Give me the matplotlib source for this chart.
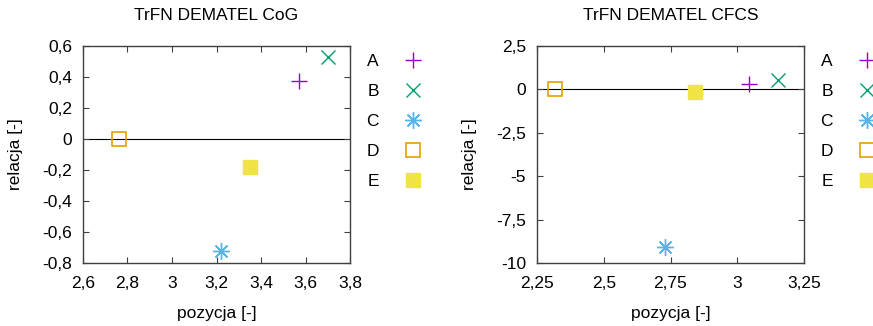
import matplotlib
matplotlib.use("Agg")
from matplotlib import pyplot as plt
from matplotlib.ticker import FuncFormatter
import numpy as np

plt.rcParams['font.family'] = ['Liberation Sans', 'DejaVu Sans']
plt.rcParams['font.size'] = 12.5

labels = ['A', 'B', 'C', 'D', 'E']
colors = ['#9400d3', '#009e73', '#56b4e9', '#e69f00', '#f0e442']

cog_x = [3.573, 3.702, 3.222, 2.762, 3.350]
cog_y = [0.372, 0.529, -0.723, 0.0, -0.178]

cfcs_x = [3.044, 3.153, 2.728, 2.316, 2.840]
cfcs_y = [0.33, 0.52, -9.08, 0.0, -0.17]

cog_xticks = [2.6, 2.8, 3.0, 3.2, 3.4, 3.6, 3.8]
cog_yticks = [-0.8, -0.6, -0.4, -0.2, 0, 0.2, 0.4, 0.6]
cfcs_xticks = [2.25, 2.5, 2.75, 3.0, 3.25]
cfcs_yticks = [-10, -7.5, -5, -2.5, 0, 2.5]

# gnuplot-like point types: +, x, *, open square, filled square
markers = ['+', 'x', (8, 2, 0), 's', 's']
fills = [None, None, None, 'none', 'full']
msizes = [11, 10, 12, 10, 10]


def comma(v, pos):
    s = ('%g' % v).replace('.', ',')
    return s


def draw(ax, xs, ys, xticks, yticks, title):
    ax.axhline(0, color='black', lw=0.8, zorder=1)
    for i in range(len(labels)):
        if fills[i] == 'none':
            ax.plot(xs[i], ys[i], linestyle='none', marker=markers[i], ms=msizes[i],
                    mfc='none', mec=colors[i], mew=1.2, label=labels[i], zorder=3)
        elif fills[i] == 'full':
            ax.plot(xs[i], ys[i], linestyle='none', marker=markers[i], ms=msizes[i],
                    mfc=colors[i], mec=colors[i], mew=1.0, label=labels[i], zorder=3)
        else:
            ax.plot(xs[i], ys[i], linestyle='none', marker=markers[i], ms=msizes[i],
                    color=colors[i], mew=1.0, label=labels[i], zorder=3)
    ax.set_xlim(xticks[0], xticks[-1])
    ax.set_ylim(yticks[0], yticks[-1])
    ax.set_xticks(xticks)
    ax.set_yticks(yticks)
    ax.xaxis.set_major_formatter(FuncFormatter(comma))
    ax.yaxis.set_major_formatter(FuncFormatter(comma))
    ax.tick_params(direction='in', top=True, right=True, length=4, width=0.8,
                   color='#404040', labelsize=12.5)
    ax.tick_params(axis='x', pad=9)
    ax.tick_params(axis='y', pad=8)
    for sp in ax.spines.values():
        sp.set_color('#404040')
        sp.set_linewidth(1.0)
    ax.set_xlabel('pozycja [-]', labelpad=11)
    ax.set_ylabel('relacja [-]', labelpad=14)
    ax.set_title(title, pad=19, fontsize=12.5)
    ax.legend(loc='upper left', bbox_to_anchor=(1.034, 1.0), frameon=False,
              markerfirst=False, handletextpad=1.35, labelspacing=0.86,
              borderaxespad=0.03, handlelength=1.2, fontsize=12.5)


figure = plt.figure(figsize=(8.73, 3.26), dpi=100)
ax1 = figure.add_axes([83 / 873, 1 - 263 / 326, 267 / 873, 217 / 326])
ax2 = figure.add_axes([537 / 873, 1 - 263 / 326, 267 / 873, 217 / 326])

draw(ax1, cog_x, cog_y, cog_xticks, cog_yticks, 'TrFN DEMATEL CoG')
draw(ax2, cfcs_x, cfcs_y, cfcs_xticks, cfcs_yticks, 'TrFN DEMATEL CFCS')

figure.savefig('out.png', dpi=100)
